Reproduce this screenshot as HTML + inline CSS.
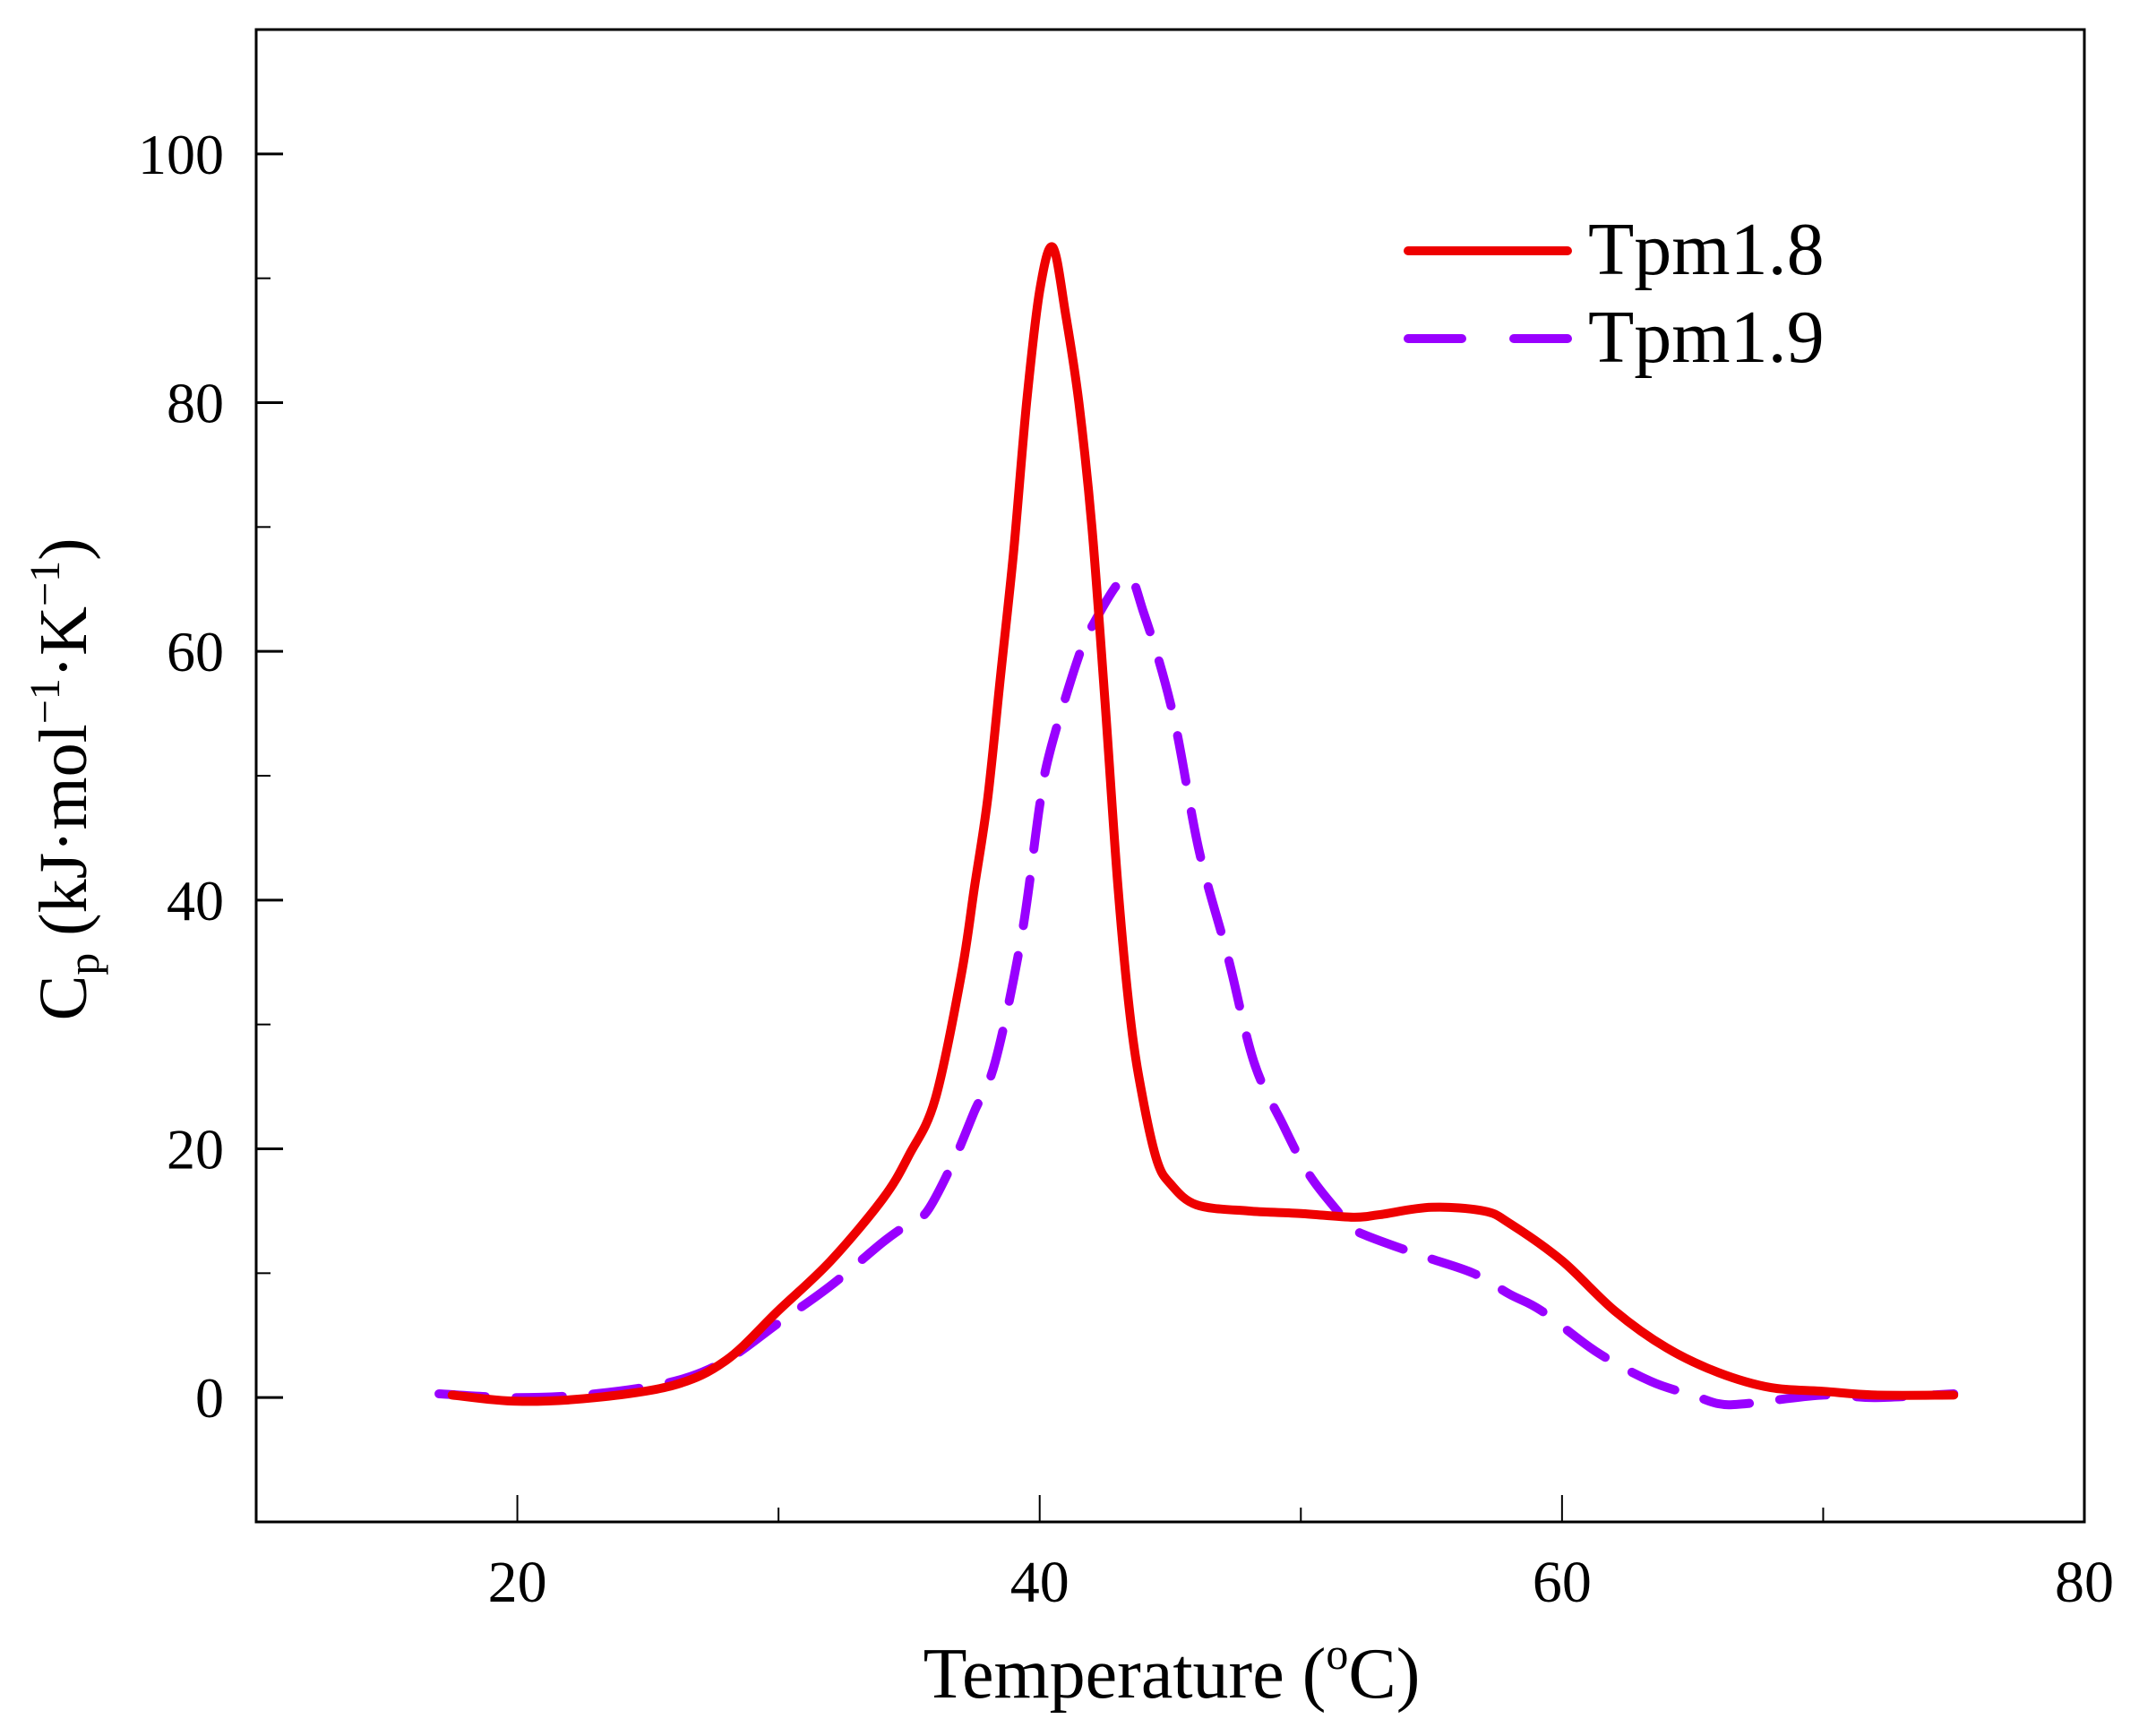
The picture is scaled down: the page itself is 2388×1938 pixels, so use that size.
<!DOCTYPE html>
<html><head><meta charset="utf-8"><style>
html,body{margin:0;padding:0;background:#fff;}
svg{display:block;font-family:"Liberation Serif",serif;}
</style></head><body>
<svg id="chart" width="2388" height="1938" viewBox="0 0 2388 1938" xmlns="http://www.w3.org/2000/svg">
<g id="plot"></g>
</svg>
<script>
const xTicks=[20,40,60,80];
const xMinor=[30,50,70];
const yTicks=[0,20,40,60,80,100];
const yMinor=[-10,10,30,50,70,90];
const t18=[17.5,20,23,26,28,30,32,34,35,36,37,37.5,38,38.5,39,39.5,40,40.5,41,41.5,42,42.5,43,43.5,44,44.5,45,46,48,50,52,53,55,57,58,60,62,64,66,68,70,72,75];
const cp18=[0.2,-0.3,0,1,3,7,11,16,19.5,24,34,41,48,58,68,80,89,92.5,87,80,70,56,41,30,23.5,19,17.2,15.5,15,14.8,14.5,14.7,15.3,15,14,11,7,4,2,0.8,0.5,0.2,0.2];
const t19=[17,20,23,26,28,30,32,34,35,35.7,36.7,37.5,38.3,39.3,40,40.4,41.4,42,43.3,44,45.1,46.1,47.2,48.2,49.3,50.3,51.4,52,54.5,56.6,58,59.2,61.3,63.4,65,66,67,70,72,75];
const cp19=[0.3,0,0.3,1.3,3,6,9,12.5,14,15,19,23,27,37,47.6,52,59,62,66,63,55,44,35.5,27,22,18,15,13.5,11.5,10,8.3,7,3.7,1.3,0.2,-0.5,-0.5,0.2,0,0.3];
const L=286,R=2327,T=33,B=1699,xmin=10,xmax=80,ymin=-10,ymax=110;
const X=v=>L+(v-xmin)/(xmax-xmin)*(R-L);
const Y=v=>B-(v-ymin)/(ymax-ymin)*(B-T);
const NS="http://www.w3.org/2000/svg";
const g=document.getElementById('plot');
function mk(tag,attrs,parent){const e=document.createElementNS(NS,tag);for(const k in attrs)e.setAttribute(k,attrs[k]);(parent||g).appendChild(e);return e;}
function smooth(xs,ys){
 const P=xs.map((x,i)=>[X(x),Y(ys[i])]);
 let d='M'+P[0][0].toFixed(1)+' '+P[0][1].toFixed(1);
 for(let i=0;i<P.length-1;i++){
  const p0=P[i-1]||P[i],p1=P[i],p2=P[i+1],p3=P[i+2]||P[i+1];
  const c1=[p1[0]+(p2[0]-p0[0])/6,p1[1]+(p2[1]-p0[1])/6];
  const c2=[p2[0]-(p3[0]-p1[0])/6,p2[1]-(p3[1]-p1[1])/6];
  d+='C'+c1.map(v=>v.toFixed(1)).join(' ')+' '+c2.map(v=>v.toFixed(1)).join(' ')+' '+p2[0].toFixed(1)+' '+p2[1].toFixed(1);
 }
 return d;
}
let p19=mk('path',{d:smooth(t19,cp19),fill:'none',stroke:'#9900ff','stroke-width':10,'stroke-dasharray':'52 34','stroke-linecap':'round','stroke-linejoin':'round'});


let p18=mk('path',{d:smooth(t18,cp18),fill:'none',stroke:'#ee0000','stroke-width':10,'stroke-linejoin':'round','stroke-linecap':'round'});


let fr=mk('rect',{x:L,y:T,width:R-L,height:B-T,fill:'none',stroke:'#000','stroke-width':3});


xTicks.forEach(v=>{
 let t=mk('line',{x1:X(v),x2:X(v),y1:B,y2:B-30,stroke:'#000','stroke-width':2});
 
 
 let l=mk('text',{x:X(v),y:1788,'font-size':66,'text-anchor':'middle'});l.textContent=v;
 
 
});
xMinor.forEach(v=>{
 let t=mk('line',{x1:X(v),x2:X(v),y1:B,y2:B-16,stroke:'#000','stroke-width':2});
 
 
});
yTicks.forEach(v=>{
 let t=mk('line',{x1:L,x2:L+30,y1:Y(v),y2:Y(v),stroke:'#000','stroke-width':3});
 
 
 let l=mk('text',{x:250,y:Y(v)+22,'font-size':64,'text-anchor':'end'});l.textContent=v;
 
 
});
yMinor.forEach(v=>{
 let t=mk('line',{x1:L,x2:L+16,y1:Y(v),y2:Y(v),stroke:'#000','stroke-width':2});
 
 
});
</script>
<svg style="position:absolute;left:0;top:0" width="2388" height="1938" xmlns="http://www.w3.org/2000/svg">
<text x="1308" y="1895" font-family="Liberation Serif,serif" font-size="80" text-anchor="middle">Temperature (<tspan font-size="50" dy="-32">o</tspan><tspan dy="32">C)</tspan></text>
<text transform="translate(96,870) rotate(-90)" font-family="Liberation Serif,serif" font-size="76" text-anchor="middle">C<tspan font-size="50" dy="14">p</tspan><tspan dy="-14"> (kJ·mol</tspan><tspan font-size="48" dy="-30">−1</tspan><tspan dy="30">·K</tspan><tspan font-size="48" dy="-30">−1</tspan><tspan dy="30">)</tspan></text>
<g>
<line x1="1572" y1="280" x2="1750" y2="280" stroke="#ee0000" stroke-width="10" stroke-linecap="round"/>
<text x="1773" y="306" font-family="Liberation Serif,serif" font-size="84">Tpm1.8</text>
<line x1="1572" y1="378" x2="1632" y2="378" stroke="#9900ff" stroke-width="10" stroke-linecap="round"/>
<line x1="1690" y1="378" x2="1750" y2="378" stroke="#9900ff" stroke-width="10" stroke-linecap="round"/>
<text x="1773" y="404" font-family="Liberation Serif,serif" font-size="84">Tpm1.9</text>
</g>
</svg>
</body></html>
